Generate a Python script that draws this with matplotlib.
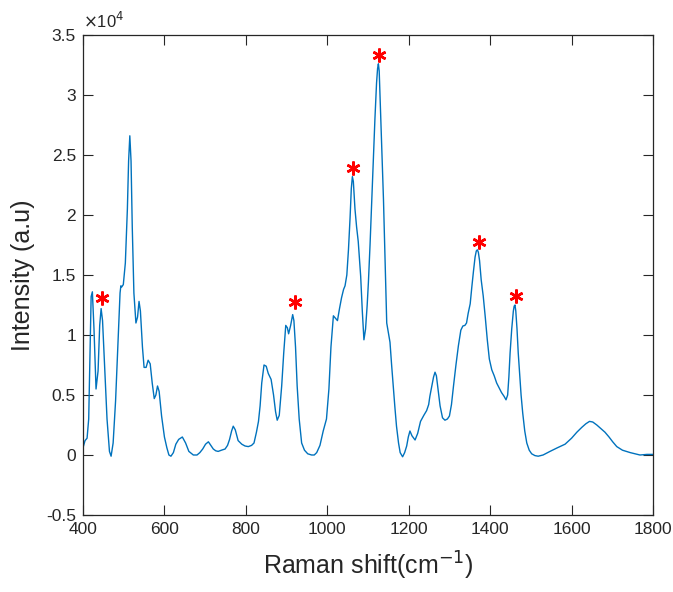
import matplotlib.pyplot as plt

# Raman spectrum (intensity in units of 1e4)
shift = [400, 405, 410, 414, 417, 420, 423, 427, 432, 437, 441, 444.5, 448, 453, 459, 465, 469,
         474, 480, 486, 491, 493, 495, 499, 504, 509, 512, 515, 518, 521, 525, 530, 534, 537.6,
         541, 546, 550, 555, 560, 565, 570, 575, 579, 583, 587, 593, 600, 606, 611, 616, 622,
         628, 635, 644, 652, 660, 671, 680, 687, 694, 701, 708, 714, 720, 726, 732, 740, 749,
         755, 760, 765, 769, 774, 781, 790, 798, 806, 814, 820, 826, 831, 835, 839, 844.6, 850,
         855, 862, 868, 873, 877, 882, 888, 893, 898, 902, 905, 910, 915, 918, 922, 926, 931,
         937, 944, 952, 961.5, 968, 974, 982, 990, 998, 1004, 1009, 1015, 1020, 1025, 1030,
         1035, 1040, 1043.6, 1048, 1052, 1056, 1059, 1061.6, 1064, 1068, 1072, 1076, 1082,
         1086, 1090, 1094, 1098, 1101, 1105, 1109, 1113, 1117, 1121, 1123.5, 1125.5, 1127.5,
         1130, 1134, 1138, 1142, 1146, 1150, 1154, 1158, 1162, 1166, 1170, 1175, 1179, 1185,
         1190, 1195, 1199, 1203, 1208, 1215.6, 1222, 1229, 1237, 1244, 1249, 1252, 1257, 1261,
         1264.6, 1268, 1272, 1277, 1283, 1289, 1295, 1300, 1305, 1310, 1316, 1322, 1328,
         1333, 1338, 1342, 1346, 1351, 1355, 1359, 1363, 1366, 1368.6, 1371, 1374, 1378, 1383,
         1388, 1393, 1398, 1404, 1410, 1416, 1422, 1428, 1434, 1439, 1443, 1446, 1449, 1453,
         1457, 1459, 1461, 1463, 1466, 1469, 1472, 1476, 1480, 1485, 1490, 1496, 1502, 1510,
         1518, 1530, 1547, 1565, 1584, 1600, 1613, 1625, 1635, 1644, 1652, 1662, 1672, 1682,
         1692, 1701, 1711, 1725, 1744, 1756, 1768, 1785, 1800]
intensity = [0.06, 0.12, 0.14, 0.30, 0.80, 1.32, 1.36, 1.05, 0.55, 0.70, 1.08, 1.22, 1.12,
             0.75, 0.30, 0.03, -0.01, 0.10, 0.45, 0.95, 1.35, 1.41, 1.40, 1.42, 1.60, 2.05,
             2.45, 2.66, 2.45, 1.90, 1.35, 1.10, 1.15, 1.28, 1.20, 0.90, 0.73, 0.73, 0.79, 0.76,
             0.60, 0.47, 0.50, 0.575, 0.53, 0.325, 0.15, 0.06, 0.00, -0.01, 0.02, 0.09, 0.13,
             0.15, 0.10, 0.03, 0.00, 0.00, 0.02, 0.05, 0.09, 0.11, 0.08, 0.05, 0.035, 0.03,
             0.04, 0.05, 0.08, 0.13, 0.20, 0.24, 0.21, 0.12, 0.09, 0.075, 0.07, 0.08, 0.10, 0.19,
             0.28, 0.41, 0.60, 0.75, 0.74, 0.68, 0.63, 0.50, 0.36, 0.29, 0.33, 0.575, 0.85, 1.08,
             1.06, 1.01, 1.08, 1.17, 1.12, 0.90, 0.575, 0.30, 0.10, 0.04, 0.01, 0.00, 0.00, 0.02,
             0.08, 0.20, 0.30, 0.55, 0.90, 1.16, 1.14, 1.12, 1.22, 1.31, 1.38, 1.41, 1.50, 1.71,
             1.98, 2.22, 2.32, 2.28, 2.05, 1.90, 1.78, 1.49, 1.20, 0.96, 1.05, 1.25, 1.44, 1.75,
             2.10, 2.45, 2.80, 3.10, 3.22, 3.26, 3.20, 2.95, 2.55, 2.13, 1.60, 1.10, 1.02, 0.94,
             0.75, 0.575, 0.40, 0.24, 0.10, 0.02, -0.015, 0.02, 0.075, 0.15, 0.20, 0.16, 0.125,
             0.18, 0.28, 0.33, 0.37, 0.42, 0.49, 0.58, 0.65, 0.69, 0.66, 0.55, 0.41, 0.31, 0.29,
             0.30, 0.325, 0.42, 0.575, 0.75, 0.91, 1.04, 1.075, 1.08, 1.10, 1.18, 1.26, 1.40,
             1.53, 1.65, 1.70, 1.71, 1.69, 1.62, 1.46, 1.325, 1.15, 0.96, 0.80, 0.71, 0.66, 0.60,
             0.56, 0.52, 0.49, 0.46, 0.50, 0.65, 0.85, 1.05, 1.20, 1.24, 1.25, 1.20, 1.05, 0.85,
             0.70, 0.50, 0.35, 0.20, 0.10, 0.04, 0.01, -0.005, -0.01, 0.00, 0.03, 0.06, 0.09,
             0.14, 0.19, 0.23, 0.26, 0.28, 0.275, 0.25, 0.22, 0.19, 0.15, 0.11, 0.07, 0.04,
             0.02, 0.01, 0.00, 0.005, 0.005]

# marked peaks (asterisks)
peak_x = [447.5, 920, 1064, 1127, 1372, 1463]
peak_y = [1.31, 1.275, 2.39, 3.33, 1.775, 1.325]

plt.rcParams['font.family'] = ['Liberation Sans', 'DejaVu Sans']
axcol = '#262626'

fig = plt.figure(figsize=(6.73, 5.92), dpi=100)
ax = fig.add_axes([83 / 673, 77 / 592, 570 / 673, 480 / 592])

ax.plot(shift, intensity, color='#0072BD', lw=1.0)
ax.plot(peak_x, peak_y, ls='none', marker=(6, 2, 0), ms=10, mew=1.8, color='red')

ax.set_xlim(400, 1800)
ax.set_ylim(-0.5, 3.5)
ax.set_xticks(range(400, 1801, 200))
ax.set_yticks([-0.5, 0, 0.5, 1, 1.5, 2, 2.5, 3, 3.5])
ax.set_yticklabels(['-0.5', '0', '0.5', '1', '1.5', '2', '2.5', '3', '3.5'])

ax.tick_params(direction='in', length=7, width=0.8, top=True, right=True,
               labelsize=12.5, colors=axcol, pad=5)
for s in ax.spines.values():
    s.set_color(axcol)
    s.set_linewidth(0.9)

ax.set_xlabel('Raman shift(cm$^{-1}$)', fontsize=18, color=axcol, labelpad=9)
ax.set_ylabel('Intensity (a.u)', fontsize=18, color=axcol, labelpad=8)
ax.text(0.0, 1.008, r'$\times$10$^{4}$', transform=ax.transAxes, fontsize=12,
        color=axcol, ha='left', va='bottom')

fig.savefig('out.png', dpi=100)
